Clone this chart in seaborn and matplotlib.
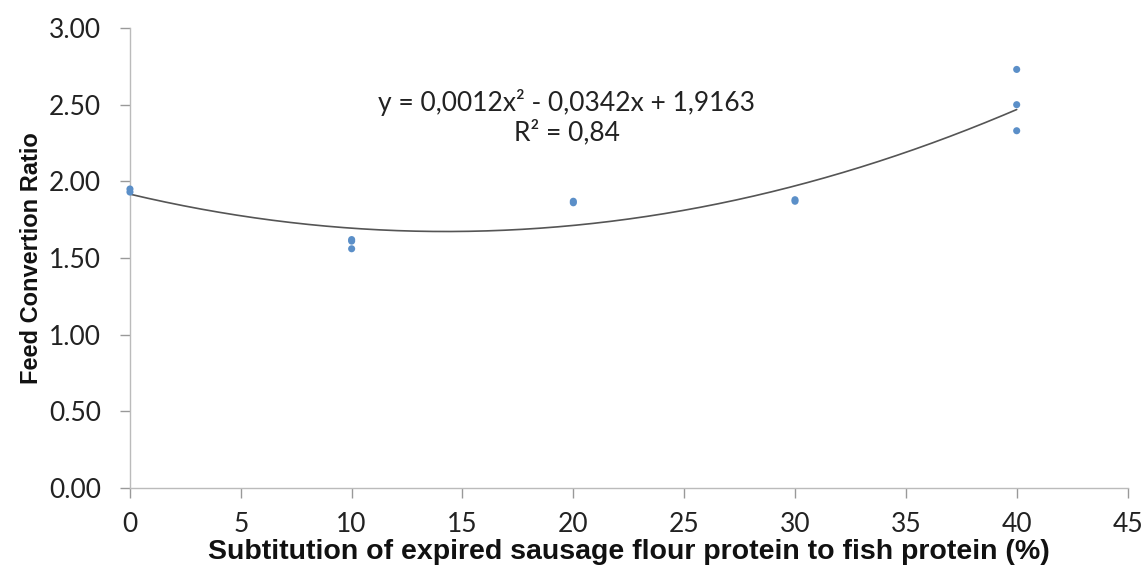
import numpy as np
import pandas as pd
import matplotlib
matplotlib.use("Agg")
import matplotlib.pyplot as plt
import seaborn as sns

# Data
substitution = [0, 0, 10, 10, 10, 20, 20, 30, 30, 40, 40, 40]
fcr = [1.95, 1.93, 1.62, 1.61, 1.56, 1.87, 1.86, 1.88, 1.87, 2.73, 2.50, 2.33]
poly_coefs = [0.0012, -0.0342, 1.9163]
eq_text = "y = 0,0012x\u00b2 - 0,0342x + 1,9163\nR\u00b2 = 0,84"
xticks = [0, 5, 10, 15, 20, 25, 30, 35, 40, 45]
yticks = [0.0, 0.5, 1.0, 1.5, 2.0, 2.5, 3.0]

sns.set_theme(style="white")
plt.rcParams['font.family'] = ['Lato', 'DejaVu Sans']

df = pd.DataFrame({"x": substitution, "y": fcr})
xs = np.linspace(0, 40, 200)
trend = pd.DataFrame({"x": xs, "y": np.polyval(poly_coefs, xs)})

fig = plt.figure(figsize=(11.44, 5.72), dpi=100)
ax = fig.add_axes([0.1136, 0.147, 0.872, 0.804])

sns.lineplot(data=trend, x="x", y="y", ax=ax, color="#555555", linewidth=1.2)
sns.scatterplot(data=df, x="x", y="y", ax=ax, color="#5b8fc8", s=26,
                edgecolor="none", zorder=3, clip_on=False)

ax.set_xlim(0, 45)
ax.set_ylim(0, 3)
ax.set_xticks(xticks)
ax.set_yticks(yticks)
ax.set_xticklabels([str(t) for t in xticks])
ax.set_yticklabels([f"{t:.2f}" for t in yticks])
ax.tick_params(axis="both", labelsize=19, colors="#999999", labelcolor="#222222",
               length=7, width=1, direction="out", left=True, bottom=True)
ax.tick_params(axis="x", pad=10)
ax.tick_params(axis="y", pad=14)
for s in ["top", "right"]:
    ax.spines[s].set_visible(False)
for s in ["left", "bottom"]:
    ax.spines[s].set_color("#bbbbbb")
    ax.spines[s].set_linewidth(1)

ax.set_xlabel("Subtitution of expired sausage flour protein to fish protein (%)",
              fontsize=20.5, fontweight="bold", family=["Liberation Sans"], color="#111111",
              labelpad=2)
ax.set_ylabel("Feed Convertion Ratio", fontsize=17, fontweight="bold",
              family=["Liberation Sans"], color="#111111", labelpad=4)

ax.text(19.7, 2.42, eq_text, ha="center", va="center", fontsize=19,
        color="#222222", linespacing=1.2)

fig.savefig("out.png", dpi=100)
